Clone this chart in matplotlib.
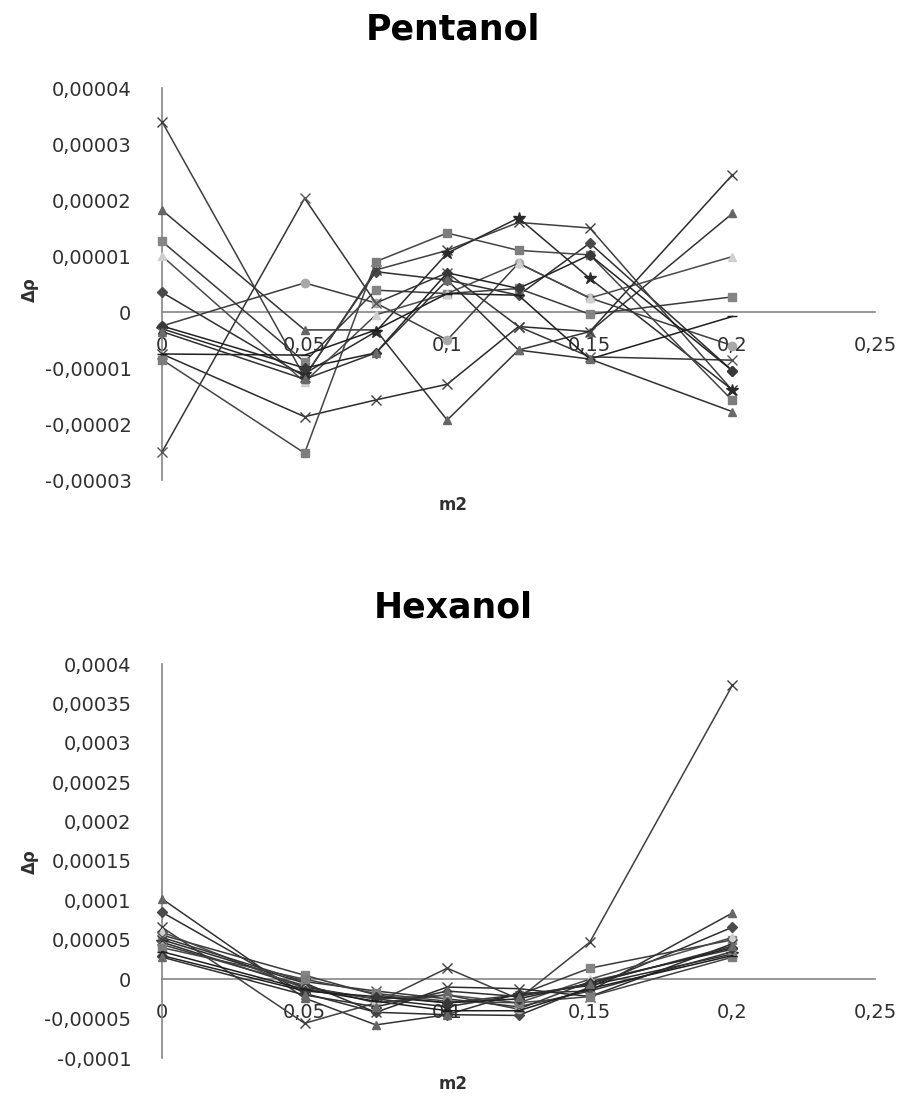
import numpy as np
import matplotlib
matplotlib.use("Agg")
import matplotlib.pyplot as plt
from matplotlib.ticker import FuncFormatter, MultipleLocator

# molality points shared by all series
m2 = [0, 0.05, 0.075, 0.1, 0.125, 0.15, 0.2]

# Pentanol, values in units of 1e-5
PENT_UNIT = 1e-5
pent_series = [
    [0.35, -1.15, 0.72, 0.57, 0.30, 1.23, -1.05],
    [1.26, -0.89, 0.39, 0.33, 0.42, -0.04, 0.27],
    [1.82, -0.32, -0.32, -1.93, -0.68, -0.35, 1.76],
    [3.40, -1.16, 0.75, 1.10, 1.60, 1.50, -1.40],
    [-0.30, -1.10, -0.35, 1.05, 1.68, 0.60, -1.39],
    [-0.25, 0.52, 0.16, -0.50, 0.87, 0.25, -0.60],
    [1.00, -1.25, -0.05, 0.33, 0.87, 0.25, 0.99],
    [-2.50, 2.03, 0.16, 0.70, -0.26, -0.80, -0.86],
    [-0.75, -1.87, -1.57, -1.29, -0.26, -0.35, 2.45],
    [-0.85, -2.52, 0.90, 1.41, 1.10, 1.02, -1.58],
    [-0.25, -1.00, -0.73, 0.70, 0.42, 1.02, -1.05],
    [-0.75, -0.77, -0.32, 0.33, 0.30, -0.84, -0.08],
    [-0.35, -1.20, -0.73, 0.57, -0.68, -0.84, -1.78],
]

# Hexanol, values in units of 1e-5
HEX_UNIT = 1e-5
hex_series = [
    [8.5, -1.8, -4.2, -4.5, -4.6, -1.0, 6.6],
    [5.6, 0.5, -2.0, -3.0, -2.0, 1.4, 5.0],
    [10.2, -2.4, -5.8, -4.5, -1.8, -1.5, 8.4],
    [6.6, -5.6, -3.0, 1.4, -2.5, 4.7, 37.3],
    [4.7, -1.0, -2.5, -3.5, -2.0, -0.8, 3.2],
    [4.4, -0.8, -3.0, -2.0, -3.8, -0.3, 3.8],
    [6.0, -1.2, -2.5, -2.0, -3.0, 0.0, 5.3],
    [5.3, -0.3, -1.5, -2.5, -3.5, -1.5, 3.5],
    [5.0, -0.5, -4.2, -1.0, -1.2, -2.2, 4.5],
    [4.0, 0.0, -1.8, -2.8, -3.0, -2.2, 2.8],
    [3.0, -1.5, -2.2, -3.0, -2.5, -0.5, 4.0],
    [3.5, -1.3, -2.8, -4.0, -4.0, -1.2, 3.0],
    [2.8, -2.0, -3.5, -1.5, -2.2, -0.6, 4.2],
]

# grayscale marker / marker colour / line colour, cycled like the spreadsheet defaults
styles = [
    ("D", "#4a4a4a", "#2e2e2e"), ("s", "#858585", "#3a3a3a"),
    ("^", "#666666", "#333333"), ("x", "#3f3f3f", "#3f3f3f"),
    ("*", "#2a2a2a", "#2a2a2a"), ("o", "#a8a8a8", "#3c3c3c"),
    ("^", "#cfcfcf", "#4a4a4a"), ("x", "#555555", "#353535"),
    ("x", "#404040", "#2b2b2b"), ("s", "#7d7d7d", "#444444"),
    ("D", "#383838", "#222222"), ("_", "#1e1e1e", "#1e1e1e"),
    ("^", "#6a6a6a", "#303030"),
]
marker_size = {"D": 5, "s": 6, "^": 6, "x": 7, "*": 9, "o": 6, "_": 7}

TEXT = "#303030"
AXIS = "#868686"
W, H = 906, 1097


def comma_fmt(v, pos=None):
    if abs(v) < 1e-12:
        return "0"
    s = f"{v:.5f}".rstrip("0").rstrip(".")
    return s.replace(".", ",")


def setup_axis(ax, ymin, ymax, ystep):
    ax.set_xlim(0, 0.25)
    ax.set_ylim(ymin, ymax)
    ax.xaxis.set_major_locator(MultipleLocator(0.05))
    ax.yaxis.set_major_locator(MultipleLocator(ystep))
    ax.xaxis.set_major_formatter(FuncFormatter(comma_fmt))
    ax.yaxis.set_major_formatter(FuncFormatter(comma_fmt))
    for side in ("top", "right"):
        ax.spines[side].set_visible(False)
    ax.spines["bottom"].set_position(("data", 0))
    ax.spines["left"].set_position(("data", 0))
    for side in ("bottom", "left"):
        ax.spines[side].set_color(AXIS)
        ax.spines[side].set_linewidth(1.2)
    ax.tick_params(axis="x", length=0, pad=17, labelsize=14, labelcolor=TEXT)
    ax.tick_params(axis="y", length=0, pad=22, labelsize=14, labelcolor=TEXT)
    ax.set_facecolor("none")


def draw(ax, series, unit):
    for vals, (mk, mcol, lcol) in zip(series, styles):
        y = np.array(vals) * unit
        ax.plot(m2, y, color=lcol, lw=1.1, marker=mk, ms=marker_size[mk],
                mew=1.0, mfc=mcol, mec=mcol, zorder=3, clip_on=False)


fig = plt.figure(figsize=(W / 100, H / 100), dpi=100)

ax1 = fig.add_axes([162 / W, 1 - 480 / H, 713 / W, 392 / H])
setup_axis(ax1, -0.00003, 0.00004, 0.00001)
draw(ax1, pent_series, PENT_UNIT)

ax2 = fig.add_axes([162 / W, 1 - 1058 / H, 713 / W, 394 / H])
setup_axis(ax2, -0.0001, 0.0004, 0.00005)
draw(ax2, hex_series, HEX_UNIT)

# titles and axis labels placed in pixel terms
fig.text(453 / W, 1 - 30 / H, "Pentanol", ha="center", va="center",
         fontsize=25, fontweight="bold", color="black")
fig.text(453 / W, 1 - 607 / H, "Hexanol", ha="center", va="center",
         fontsize=25, fontweight="bold", color="black")
for yc in (290, 862):
    fig.text(30 / W, 1 - yc / H, "Δρ", ha="center", va="center", rotation=90,
             fontsize=12, fontweight="bold", color=TEXT)
for yc in (505, 1084):
    fig.text(453 / W, 1 - yc / H, "m2", ha="center", va="center",
             fontsize=12, fontweight="bold", color=TEXT)

fig.savefig("out.png", dpi=100, facecolor="white")
